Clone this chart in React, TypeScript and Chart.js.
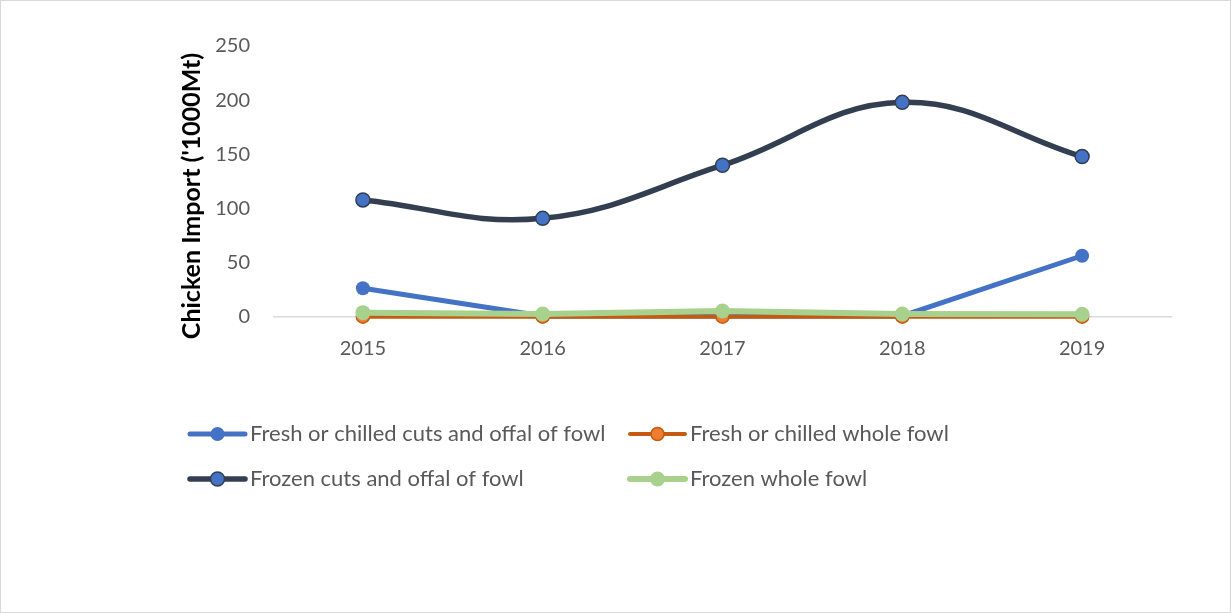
import React, { useEffect, useRef } from 'react';
import { Chart, registerables } from 'chart.js';

Chart.register(...registerables);

const years = ['2015', '2016', '2017', '2018', '2019'];
const freshCuts = [26.5, 1, 1, 1, 56.5];
const freshWhole = [0.3, 0.3, 0.3, 0.3, 0.3];
const frozenCuts = [108, 91, 140, 198, 148];
const frozenWhole = [4, 2.8, 5.5, 2.8, 2.5];
const yMin = 0;
const yMax = 250;
const yStep = 50;
const yTitle = "Chicken Import ('1000Mt)";
const seriesNames = [
  'Fresh or chilled cuts and offal of fowl',
  'Fresh or chilled whole fowl',
  'Frozen cuts and offal of fowl',
  'Frozen whole fowl',
];

const FONT = 'Lato, "Open Sans", sans-serif';
const TEXT = '#595959';

const legendPos = [
  { x: 190, y: 434 },
  { x: 630, y: 434 },
  { x: 190, y: 479 },
  { x: 630, y: 479 },
];

const extrasPlugin = {
  id: 'extras',
  beforeDraw(chart: any) {
    const ctx = chart.ctx;
    ctx.save();
    ctx.fillStyle = '#ffffff';
    ctx.fillRect(0, 0, chart.width, chart.height);
    ctx.strokeStyle = '#d9d9d9';
    ctx.lineWidth = 1;
    ctx.strokeRect(0.5, 0.5, chart.width - 1, chart.height - 1);
    ctx.restore();
  },
  afterDraw(chart: any) {
    const ctx = chart.ctx;
    // y-axis title
    ctx.save();
    ctx.translate(192, 196);
    ctx.rotate(-Math.PI / 2);
    ctx.font = 'bold 25px ' + FONT;
    ctx.fillStyle = '#000000';
    ctx.textAlign = 'center';
    ctx.textBaseline = 'middle';
    ctx.fillText(yTitle, 0, 0);
    ctx.restore();
    // legend
    chart.data.datasets.forEach((ds: any, i: number) => {
      const p = legendPos[i];
      ctx.save();
      ctx.strokeStyle = ds.borderColor;
      ctx.lineWidth = ds.borderWidth;
      ctx.lineCap = 'round';
      ctx.beginPath();
      ctx.moveTo(p.x, p.y);
      ctx.lineTo(p.x + 55, p.y);
      ctx.stroke();
      ctx.beginPath();
      ctx.arc(p.x + 27.5, p.y, ds.pointRadius, 0, Math.PI * 2);
      ctx.fillStyle = ds.pointBackgroundColor;
      ctx.fill();
      if (ds.pointBorderWidth > 0) {
        ctx.lineWidth = ds.pointBorderWidth;
        ctx.strokeStyle = ds.pointBorderColor;
        ctx.stroke();
      }
      ctx.font = '22px ' + FONT;
      ctx.fillStyle = TEXT;
      ctx.textAlign = 'left';
      ctx.textBaseline = 'middle';
      ctx.fillText(ds.label, p.x + 60, p.y);
      ctx.restore();
    });
  },
};

export default function App() {
  const ref = useRef<HTMLCanvasElement>(null);
  useEffect(() => {
    document.body.style.margin = '0';
    const chart = new Chart(ref.current as HTMLCanvasElement, {
      type: 'line',
      data: {
        labels: years,
        datasets: [
          {
            label: seriesNames[0],
            data: freshCuts,
            borderColor: '#4472C4',
            backgroundColor: '#4472C4',
            borderWidth: 5,
            pointRadius: 7,
            pointBackgroundColor: '#4472C4',
            pointBorderColor: '#4472C4',
            pointBorderWidth: 0,
            tension: 0,
            order: 4,
            clip: false,
          },
          {
            label: seriesNames[1],
            data: freshWhole,
            borderColor: '#C55A11',
            backgroundColor: '#ED7D31',
            borderWidth: 4,
            pointRadius: 6.5,
            pointBackgroundColor: '#ED7D31',
            pointBorderColor: '#C55A11',
            pointBorderWidth: 1.5,
            tension: 0,
            order: 3,
            clip: false,
          },
          {
            label: seriesNames[2],
            data: frozenCuts,
            borderColor: '#333F50',
            backgroundColor: '#4472C4',
            borderWidth: 5.5,
            pointRadius: 7,
            pointBackgroundColor: '#4472C4',
            pointBorderColor: '#333F50',
            pointBorderWidth: 1.5,
            tension: 0.4,
            order: 2,
            clip: false,
          },
          {
            label: seriesNames[3],
            data: frozenWhole,
            borderColor: '#A9D18E',
            backgroundColor: '#A9D18E',
            borderWidth: 6,
            pointRadius: 7.5,
            pointBackgroundColor: '#A9D18E',
            pointBorderColor: '#A9D18E',
            pointBorderWidth: 0,
            tension: 0,
            order: 1,
            clip: false,
          },
        ],
      },
      options: {
        animation: false,
        responsive: false,
        maintainAspectRatio: false,
        layout: { padding: { left: 180, top: 46, right: 59, bottom: 0 } },
        plugins: {
          legend: { display: false },
          tooltip: { enabled: false },
        },
        scales: {
          x: {
            offset: true,
            grid: { display: false, drawTicks: false },
            border: { display: false },
            ticks: { color: TEXT, font: { family: FONT, size: 20 }, padding: 20 },
            afterFit: (s: any) => { s.height = 296; },
          },
          y: {
            min: yMin,
            max: yMax,
            ticks: { stepSize: yStep, color: TEXT, font: { family: FONT, size: 20 }, padding: 23 },
            grid: {
              drawTicks: false,
              lineWidth: 1.5,
              color: (c: any) => (c.tick && c.tick.value === 0 ? '#d9d9d9' : 'rgba(0,0,0,0)'),
            },
            border: { display: false },
            afterFit: (s: any) => { s.width = 93; },
          },
        },
      },
      plugins: [extrasPlugin],
    });
    return () => chart.destroy();
  }, []);
  return (
    <div style={{ width: 1231, height: 613 }}>
      <canvas ref={ref} width={1231} height={613} style={{ display: 'block', width: 1231, height: 613 }} />
    </div>
  );
}
